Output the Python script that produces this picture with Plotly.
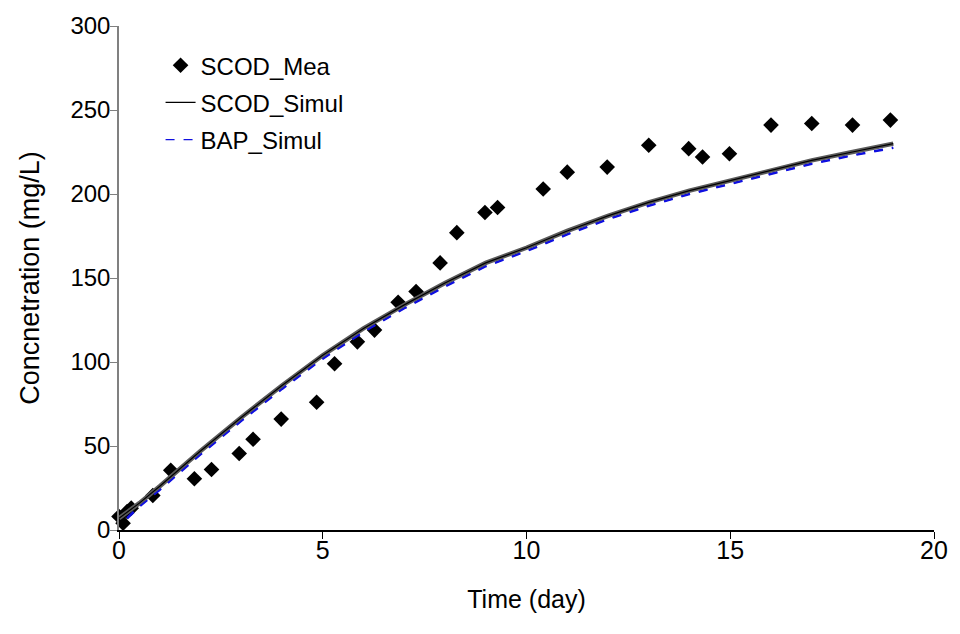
import plotly.graph_objects as go

# Measured SCOD
mea_day = [0.0, 0.1, 0.2, 0.3, 0.83, 1.27, 1.85, 2.27, 2.95, 3.29, 3.98, 4.85,
           5.29, 5.85, 6.27, 6.85, 7.29, 7.88, 8.29, 8.98, 9.29, 10.41, 11.0,
           11.98, 13.0, 13.98, 14.32, 14.98, 16.0, 17.0, 18.0, 18.93]
mea_scod = [8, 4, 11, 13, 20.5, 35.5, 30.5, 36, 45.5, 54, 66, 76,
            99, 112, 119, 135.5, 142, 159, 177, 189, 192, 203, 213,
            216, 229, 227, 222, 224, 241, 242, 241, 244]

# Simulated curves
sim_day = [0, 0.5, 1, 2, 3, 4, 5, 6, 7, 8, 9, 10, 11, 12, 13, 14, 15, 16, 17, 18, 19]
scod_sim = [7, 16, 26, 47, 67, 86, 104, 120, 134, 147, 159, 168, 178, 187, 195, 202,
            208, 214, 220, 225, 230]
bap_day = [0.2, 0.5, 1, 2, 3, 4, 5, 6, 7, 8, 9, 10, 11, 12, 13, 14, 15, 16, 17, 18, 19]
bap_sim = [7, 14, 24, 45, 65, 84, 102, 118, 132, 145, 157, 166, 176, 185, 193, 200,
           206, 212, 218, 223, 227.5]

x_ticks = [0, 5, 10, 15, 20]
y_ticks = [0, 50, 100, 150, 200, 250, 300]

FONT = "Liberation Sans, Arial, sans-serif"

fig = go.Figure()
fig.add_trace(go.Scatter(
    x=mea_day, y=mea_scod, mode="markers", name="SCOD_Mea",
    marker=dict(symbol="diamond", size=12, color="black"),
    cliponaxis=False, legendgroup="a"))
fig.add_trace(go.Scatter(
    x=bap_day, y=bap_sim, mode="lines", name="BAP_Simul_band", showlegend=False,
    line=dict(color="#1010e0", width=2.5, dash="dash")))
fig.add_trace(go.Scatter(
    x=sim_day, y=scod_sim, mode="lines", name="SCOD_Simul_band", showlegend=False,
    line=dict(color="#5a5a5a", width=4.5)))
fig.add_trace(go.Scatter(
    x=sim_day, y=scod_sim, mode="lines", name="SCOD_Simul",
    line=dict(color="black", width=1.2), legendgroup="b"))
fig.add_trace(go.Scatter(
    x=bap_day, y=bap_sim, mode="lines", name="BAP_Simul",
    line=dict(color="#1010e0", width=1.2, dash="dash"), legendgroup="c"))

fig.update_layout(
    width=960, height=634,
    margin=dict(l=119, r=21, t=24, b=104),
    paper_bgcolor="white", plot_bgcolor="white",
    font=dict(family=FONT, size=24, color="black"),
    showlegend=True,
    legend=dict(x=0.051, y=0.966, xanchor="left", yanchor="top",
                bgcolor="rgba(0,0,0,0)", font=dict(size=24),
                traceorder="grouped", tracegroupgap=3),
    xaxis=dict(range=[0, 20], tickvals=x_ticks, ticks="outside", ticklen=7,
               tickcolor="black", showline=True, linecolor="black", linewidth=1.5,
               showgrid=False, zeroline=False, tickfont=dict(size=25),
               ticklabelstandoff=-10,
               title=dict(text="Time (day)", standoff=28, font=dict(size=25))),
    yaxis=dict(range=[0, 300], tickvals=y_ticks, ticks="outside", ticklen=7,
               tickcolor="#808080", showline=True, linecolor="#808080", linewidth=1.5,
               showgrid=False, zeroline=False, tickfont=dict(size=24),
               ticklabelstandoff=-5,
               title=dict(text="Concnetration (mg/L)", standoff=23, font=dict(size=27))),
)

fig.write_html("out.html")
